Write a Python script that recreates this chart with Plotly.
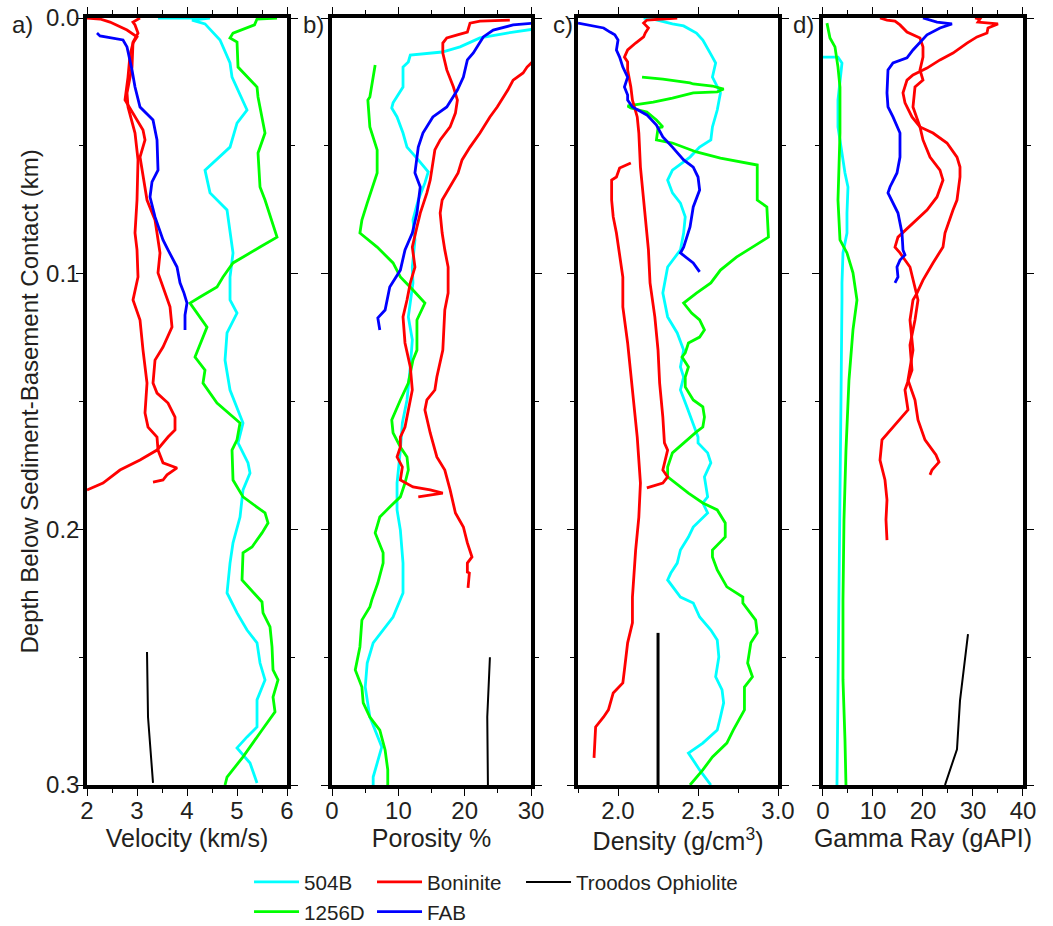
import plotly.graph_objects as go

# ---------------- DATA ----------------
# Panel a: Velocity (km/s)
a_504B_depth = [0, 0, 0.0008, 0.0023, 0.0086, 0.0176, 0.0231, 0.0360, 0.0411, 0.0505, 0.0595, 0.0684, 0.0751, 0.0841,
                0.0919, 0.1013, 0.1103, 0.1154, 0.1232, 0.1338, 0.1455, 0.1584, 0.1662, 0.1740, 0.1780, 0.1846, 0.1952,
                0.2053, 0.2132, 0.2249, 0.2327, 0.2394, 0.2444, 0.2523, 0.2589, 0.2667, 0.2773, 0.2812, 0.2855, 0.2914, 0.2992]
a_504B_vel = [3.42, 4.46, 4.1, 4.36, 4.66, 4.86, 4.9, 5.2, 5.0, 4.86, 4.36, 4.46, 4.8, 4.86, 4.92, 4.86, 4.86, 5.0, 4.8,
              4.76, 4.86, 5.12, 5.02, 5.22, 5.26, 5.12, 5.06, 4.92, 4.86, 4.8, 5.0, 5.2, 5.4, 5.46, 5.56, 5.4, 5.4, 5.2,
              5.0, 5.26, 5.4]

a_1256D_depth = [0, 0.0004, 0.0027, 0.0059, 0.0078, 0.0094, 0.0192, 0.0270, 0.0309, 0.0450, 0.0528, 0.0661, 0.0712,
                 0.0857, 0.0896, 0.0958, 0.1013, 0.1052, 0.1091, 0.1115, 0.1209, 0.1326, 0.1377, 0.1428, 0.1506, 0.1584,
                 0.1650, 0.1690, 0.1807, 0.1873, 0.1936, 0.1975, 0.2014, 0.2069, 0.2092, 0.2198, 0.2284, 0.2327, 0.2382,
                 0.2460, 0.2550, 0.2589, 0.2656, 0.2714, 0.2785, 0.2890, 0.2969, 0.3]
a_1256D_vel = [5.8, 5.4, 5.35, 4.92, 4.86, 5.0, 5.02, 5.4, 5.42, 5.56, 5.42, 5.46, 5.56, 5.8, 5.46, 4.92, 4.72, 4.6,
               4.26, 4.06, 4.4, 4.16, 4.36, 4.32, 4.6, 5.06, 5.0, 4.9, 4.92, 5.12, 5.56, 5.62, 5.5, 5.3, 5.12, 5.1, 5.5,
               5.52, 5.66, 5.7, 5.72, 5.82, 5.72, 5.76, 5.5, 5.12, 4.8, 4.76]

a_FAB_depth = [0.0059, 0.0070, 0.0086, 0.0113, 0.0203, 0.0270, 0.0348, 0.0399, 0.0477, 0.0595, 0.0641, 0.0700, 0.0778,
               0.0868, 0.0907, 0.0974, 0.1036, 0.1076, 0.1115, 0.1162, 0.1220]
a_FAB_vel = [2.2, 2.26, 2.72, 2.8, 2.9, 2.96, 3.06, 3.32, 3.4, 3.42, 3.3, 3.26, 3.36, 3.52, 3.62, 3.8, 3.86, 3.94, 4.0,
             3.96, 3.96]

a_bon1_depth = [0, 0.0004, 0.0016, 0.0047, 0.0074, 0.0098, 0.0145, 0.0231, 0.0321, 0.0372, 0.0438, 0.0477, 0.0544,
                0.0712, 0.0790, 0.0841, 0.0919, 0.0997, 0.1076, 0.1130, 0.1209, 0.1287, 0.1338, 0.1428, 0.1467, 0.1506,
                0.1561, 0.1611, 0.1639, 0.1690, 0.1729, 0.1768, 0.1819, 0.1846]
a_bon1_vel = [2.0, 2.26, 2.46, 2.8, 3.0, 2.92, 2.86, 2.82, 2.76, 2.92, 3.12, 3.16, 3.06, 3.2, 3.36, 3.4, 3.46, 3.42,
              3.56, 3.66, 3.7, 3.52, 3.36, 3.32, 3.4, 3.62, 3.76, 3.76, 3.62, 3.4, 3.06, 2.66, 2.32, 2.0]

a_bon2_depth = [0, 0.0016, 0.0027, 0.0059, 0.0094, 0.0192, 0.0293, 0.0348, 0.0450, 0.0555, 0.0712, 0.0841, 0.0907,
                0.1013, 0.1103, 0.1181, 0.1299, 0.1428, 0.1545, 0.1600, 0.1639, 0.1690, 0.1740, 0.1760, 0.1787, 0.1807, 0.1815]
a_bon2_vel = [3.06, 2.92, 2.96, 3.02, 2.92, 2.9, 2.8, 2.82, 2.96, 3.02, 3.0, 2.96, 3.0, 3.02, 2.92, 3.06, 3.12, 3.2,
              3.16, 3.22, 3.4, 3.42, 3.52, 3.8, 3.6, 3.52, 3.32]

a_troodos_depth = [0.248, 0.2734, 0.2992]
a_troodos_vel = [3.2, 3.22, 3.32]

# Panel b: Porosity %
b_504B_depth = [0.0043, 0.0059, 0.0078, 0.0113, 0.0133, 0.0145, 0.0172, 0.0192, 0.0270, 0.0332, 0.0352, 0.0387, 0.0450,
                0.0505, 0.0555, 0.0602, 0.0645, 0.0712, 0.0790, 0.0868, 0.0974, 0.1036, 0.1169, 0.1259, 0.1365, 0.1494,
                0.1584, 0.1690, 0.1819, 0.1924, 0.2003, 0.2132, 0.2249, 0.2343, 0.2444, 0.2523, 0.2617, 0.2734, 0.2851,
                0.2969, 0.3]
b_504B_por = [30.5, 26.4, 22.3, 19.3, 16.6, 11.8, 11.5, 10.7, 10.7, 9.2, 9.0, 9.8, 10.7, 11.3, 13.0, 14.5, 14.0, 13.0,
              12.2, 12.5, 12.1, 12.2, 11.5, 12.1, 11.8, 11.3, 10.6, 10.3, 9.8, 9.8, 10.3, 10.7, 10.7, 9.2, 6.2, 5.3, 5.0,
              5.7, 7.5, 6.2, 6.2]

b_1256D_depth = [0.0184, 0.0231, 0.0309, 0.0321, 0.0426, 0.0516, 0.0606, 0.0724, 0.0790, 0.0841, 0.0896, 0.0958, 0.1013,
                 0.1064, 0.1115, 0.1181, 0.1299, 0.1338, 0.1428, 0.1494, 0.1572, 0.1623, 0.1678, 0.1717, 0.1768, 0.1819,
                 0.1873, 0.1913, 0.1952, 0.2014, 0.2092, 0.2132, 0.2210, 0.2276, 0.2304, 0.2355, 0.2460, 0.2550, 0.2617,
                 0.2679, 0.2734, 0.2785, 0.2863, 0.2941, 0.3]
b_1256D_por = [6.5, 6.2, 5.7, 5.4, 5.7, 6.8, 6.8, 5.3, 4.5, 4.2, 6.8, 9.2, 10.3, 12.2, 14.0, 12.8, 12.8, 12.2, 11.5, 10.3,
               9.0, 9.2, 10.3, 11.3, 11.5, 11.0, 10.3, 8.7, 7.2, 6.5, 7.7, 7.7, 6.9, 6.0, 5.7, 4.5, 4.2, 3.5, 4.5, 4.7,
               5.7, 7.2, 8.0, 8.4, 8.4]

b_FAB_depth = [0.0020, 0.0027, 0.0047, 0.0074, 0.0137, 0.0164, 0.0231, 0.0282, 0.0348, 0.0387, 0.0450, 0.0505, 0.0606,
               0.0661, 0.0763, 0.0841, 0.0907, 0.0986, 0.1052, 0.1103, 0.1142, 0.1173, 0.1220]
b_FAB_por = [30.5, 27.3, 24.3, 22.8, 21.3, 20.4, 19.8, 18.9, 17.3, 15.2, 13.7, 13.0, 12.5, 13.3, 12.8, 12.1, 11.0, 10.3,
             8.7, 8.3, 8.0, 6.9, 7.2]

b_bon1_depth = [0.0008, 0.0012, 0.0020, 0.0055, 0.0066, 0.0078, 0.0098, 0.0137, 0.0203, 0.0270, 0.0321, 0.0372, 0.0426,
                0.0477, 0.0516, 0.0595, 0.0634, 0.0684, 0.0763, 0.0817, 0.0896, 0.0974, 0.1036, 0.1103, 0.1169, 0.1271,
                0.1365, 0.1455, 0.1533, 0.1600, 0.1639, 0.1678, 0.1717, 0.1756, 0.1807, 0.1834, 0.1846, 0.1858, 0.1873]
b_bon1_por = [26.8, 22.3, 20.8, 20.4, 18.9, 17.3, 16.7, 16.7, 17.3, 18.3, 18.9, 18.6, 17.8, 16.3, 15.5, 15.1, 14.8, 14.3,
              13.3, 12.8, 12.1, 12.5, 11.8, 11.3, 10.7, 11.0, 11.8, 12.1, 11.5, 11.0, 10.3, 10.3, 9.8, 10.6, 10.3, 12.2,
              14.8, 16.7, 13.0]

b_bon2_depth = [0.0172, 0.0192, 0.0215, 0.0243, 0.0282, 0.0348, 0.0387, 0.0450, 0.0505, 0.0555, 0.0606, 0.0661, 0.0712,
                0.0763, 0.0841, 0.0907, 0.0974, 0.1076, 0.1142, 0.1299, 0.1404, 0.1455, 0.1494, 0.1533, 0.1623, 0.1717,
                0.1768, 0.1846, 0.1936, 0.1991, 0.2053, 0.2108, 0.2132, 0.2167, 0.2171, 0.2229]
b_bon2_por = [30.2, 29.4, 28.8, 27.3, 26.5, 24.9, 23.8, 22.3, 20.8, 19.6, 19.0, 17.8, 16.6, 16.3, 16.6, 17.0, 17.5, 17.5,
              17.0, 16.7, 15.8, 15.5, 14.3, 14.0, 14.8, 15.8, 17.0, 17.8, 18.6, 19.8, 20.4, 21.1, 20.4, 20.4, 20.7, 20.5]

b_troodos_depth = [0.25, 0.2734, 0.3]
b_troodos_por = [23.8, 23.4, 23.5]

# Panel c: Density (g/cm3)
c_504B_depth = [0, 0.0004, 0.0023, 0.0027, 0.0031, 0.0059, 0.0086, 0.0153, 0.0176, 0.0231, 0.0293, 0.0360, 0.0426,
                0.0477, 0.0505, 0.0544, 0.0595, 0.0634, 0.0684, 0.0724, 0.0778, 0.0841, 0.0907, 0.0974, 0.1076, 0.1169,
                0.1232, 0.1299, 0.1365, 0.1404, 0.1455, 0.1521, 0.1584, 0.1639, 0.1662, 0.1701, 0.1740, 0.1795, 0.1873,
                0.1897, 0.1936, 0.1991, 0.2030, 0.2081, 0.2132, 0.2171, 0.2198, 0.2265, 0.2288, 0.2343, 0.2394, 0.2433,
                0.2499, 0.2577, 0.2628, 0.2679, 0.2734, 0.2785, 0.2836, 0.2875, 0.2941, 0.3]
c_504B_den = [2.16, 2.22, 2.34, 2.37, 2.41, 2.49, 2.53, 2.59, 2.61, 2.59, 2.64, 2.62, 2.59, 2.58, 2.51, 2.45, 2.34, 2.31,
              2.34, 2.39, 2.42, 2.41, 2.39, 2.31, 2.28, 2.31, 2.37, 2.41, 2.39, 2.41, 2.39, 2.43, 2.47, 2.5, 2.5, 2.56,
              2.58, 2.54, 2.56, 2.53, 2.56, 2.47, 2.44, 2.39, 2.37, 2.33, 2.31, 2.39, 2.47, 2.51, 2.58, 2.62, 2.63, 2.61,
              2.65, 2.66, 2.64, 2.62, 2.53, 2.44, 2.51, 2.58]

c_1256D_depth = [0.0231, 0.0239, 0.0254, 0.0258, 0.0266, 0.0278, 0.0289, 0.0293, 0.0313, 0.0329, 0.0344, 0.0352, 0.0368,
                 0.0399, 0.0426, 0.0430, 0.0477, 0.0489, 0.0524, 0.0548, 0.0575, 0.0712, 0.0739, 0.0857, 0.0896, 0.0935,
                 0.0986, 0.1036, 0.1076, 0.1115, 0.1154, 0.1181, 0.1220, 0.1248, 0.1271, 0.1310, 0.1326, 0.1365, 0.1404,
                 0.1443, 0.1494, 0.1521, 0.1561, 0.1600, 0.1619, 0.1662, 0.1701, 0.1756, 0.1795, 0.1858, 0.1897, 0.1924,
                 0.1975, 0.2030, 0.2081, 0.2108, 0.2159, 0.2225, 0.2265, 0.2288, 0.2355, 0.2405, 0.2444, 0.2523, 0.2577,
                 0.2617, 0.2706, 0.2785, 0.2836, 0.2890, 0.2941, 0.3]
c_1256D_den = [2.15, 2.28, 2.45, 2.47, 2.59, 2.66, 2.62, 2.47, 2.34, 2.22, 2.06, 2.08, 2.18, 2.24, 2.28, 2.25, 2.24, 2.34,
               2.49, 2.64, 2.87, 2.87, 2.93, 2.94, 2.84, 2.74, 2.64, 2.58, 2.49, 2.41, 2.46, 2.51, 2.54, 2.51, 2.44, 2.42,
               2.40, 2.44, 2.42, 2.42, 2.47, 2.53, 2.54, 2.53, 2.49, 2.41, 2.34, 2.31, 2.31, 2.44, 2.53, 2.62, 2.67, 2.67,
               2.59, 2.59, 2.62, 2.68, 2.78, 2.78, 2.86, 2.87, 2.83, 2.81, 2.84, 2.79, 2.79, 2.72, 2.68, 2.59, 2.53, 2.45]

c_FAB_depth = [0.0020, 0.0039, 0.0055, 0.0066, 0.0086, 0.0125, 0.0153, 0.0192, 0.0231, 0.0270, 0.0301, 0.0321, 0.0348,
               0.0379, 0.0419, 0.0465, 0.0505, 0.0555, 0.0583, 0.0622, 0.0673, 0.0739, 0.0817, 0.0857, 0.0896, 0.0919,
               0.0939, 0.0958, 0.0993]
c_FAB_den = [1.75, 1.91, 1.95, 1.98, 2.0, 1.99, 2.01, 2.03, 2.06, 2.04, 2.06, 2.06, 2.09, 2.18, 2.24, 2.28, 2.34, 2.41,
             2.47, 2.5, 2.51, 2.47, 2.45, 2.43, 2.41, 2.39, 2.43, 2.47, 2.51]

c_bon1_depth = [0, 0.0008, 0.0020, 0.0039, 0.0059, 0.0074, 0.0098, 0.0125, 0.0153, 0.0172, 0.0203, 0.0270, 0.0321,
                0.0387, 0.0450, 0.0583, 0.0712, 0.0841, 0.0907, 0.1036, 0.1169, 0.1299, 0.1428, 0.1561, 0.1662, 0.1690,
                0.1740, 0.1768, 0.1795, 0.1819, 0.1838]
c_bon1_den = [2.37, 2.18, 2.16, 2.19, 2.17, 2.16, 2.11, 2.06, 2.04, 2.06, 2.06, 2.08, 2.09, 2.12, 2.13, 2.14, 2.16, 2.18,
              2.19, 2.2, 2.23, 2.25, 2.26, 2.28, 2.29, 2.31, 2.29, 2.28, 2.31, 2.28, 2.18]

c_bon2_depth = [0.0567, 0.0587, 0.0622, 0.0634, 0.0712, 0.0778, 0.0841, 0.0919, 0.1013, 0.1103, 0.1130, 0.1271, 0.1455,
                0.1639, 0.1819, 0.1952, 0.2081, 0.2265, 0.2366, 0.2444, 0.2550, 0.2601, 0.2640, 0.2706, 0.2734, 0.2773,
                0.2894]
c_bon2_den = [2.08, 2.01, 1.99, 1.96, 1.96, 1.97, 1.99, 2.01, 2.03, 2.03, 2.03, 2.06, 2.09, 2.12, 2.14, 2.13, 2.11, 2.09,
              2.09, 2.06, 2.04, 2.03, 1.97, 1.94, 1.91, 1.86, 1.85]

c_troodos_depth = [0.2405, 0.3]
c_troodos_den = [2.25, 2.25]

# Panel d: Gamma Ray (gAPI)
d_504B_depth = [0.0153, 0.0153, 0.0176, 0.0243, 0.0321, 0.0426, 0.0528, 0.0606, 0.0661, 0.0763, 0.0841, 0.0919, 0.1036,
                0.1103, 0.1494, 0.1873, 0.2276, 0.2667, 0.3]
d_504B_gr = [0.0, 3.0, 3.8, 3.4, 3.0, 3.0, 3.8, 4.4, 5.0, 4.8, 4.8, 4.0, 3.8, 3.8, 3.6, 3.4, 3.2, 3.0, 2.8]

d_1256D_depth = [0.0020, 0.0078, 0.0113, 0.0192, 0.0270, 0.0450, 0.0583, 0.0712, 0.0868, 0.0919, 0.0997, 0.1103, 0.1220,
                 0.1416, 0.1690, 0.1963, 0.2276, 0.2589, 0.2824, 0.3]
d_1256D_gr = [0.8, 1.4, 2.4, 3.0, 3.4, 3.4, 3.2, 3.0, 3.4, 4.8, 6.0, 6.8, 6.0, 5.2, 4.6, 4.2, 4.0, 4.0, 4.4, 4.6]

d_FAB_depth = [0, 0.0016, 0.0023, 0.0039, 0.0066, 0.0125, 0.0156, 0.0176, 0.0203, 0.0293, 0.0348, 0.0387, 0.0450,
               0.0544, 0.0606, 0.0661, 0.0684, 0.0724, 0.0763, 0.0841, 0.0907, 0.0927, 0.0947, 0.0974, 0.1013, 0.1036]
d_FAB_gr = [20.0, 22.8, 25.8, 23.4, 20.8, 18.0, 16.8, 14.0, 13.0, 12.8, 13.0, 14.0, 15.4, 15.4, 14.8, 13.4, 13.0, 14.0,
            15.0, 15.8, 16.0, 16.4, 15.4, 14.8, 15.0, 14.4]

d_bon1_depth = [0, 0.0008, 0.0012, 0.0027, 0.0055, 0.0066, 0.0078, 0.0113, 0.0153, 0.0203, 0.0243, 0.0270, 0.0348,
                0.0426, 0.0477, 0.0544, 0.0595, 0.0634, 0.0700, 0.0751, 0.0802, 0.0857, 0.0896, 0.0919, 0.0974, 0.1052,
                0.1103, 0.1181, 0.1279, 0.1377, 0.1455, 0.1533, 0.1592, 0.1650, 0.1729, 0.1807, 0.1885, 0.1963, 0.2042]
d_bon1_gr = [11.4, 12.8, 14.4, 15.4, 16.8, 18.0, 19.4, 20.0, 20.0, 19.4, 20.0, 18.4, 18.0, 19.4, 20.0, 21.4, 23.4, 24.0,
             22.8, 20.8, 18.0, 15.0, 14.4, 15.4, 17.4, 18.4, 19.0, 18.4, 17.4, 17.8, 16.4, 17.0, 14.4, 11.8, 11.4, 12.4,
             12.8, 12.6, 12.8]

d_bon2_depth = [0, 0.0004, 0.0016, 0.0023, 0.0039, 0.0059, 0.0074, 0.0098, 0.0137, 0.0164, 0.0196, 0.0223, 0.0243,
                0.0293, 0.0332, 0.0387, 0.0426, 0.0450, 0.0489, 0.0544, 0.0583, 0.0622, 0.0712, 0.0751, 0.0841, 0.0896,
                0.0958, 0.1025, 0.1076, 0.1103, 0.1181, 0.1299, 0.1416, 0.1494, 0.1572, 0.1650, 0.1709, 0.1737, 0.1768, 0.1787]
d_bon2_gr = [30.4, 31.4, 31.0, 35.0, 33.0, 32.8, 30.8, 28.8, 26.0, 23.4, 20.8, 18.0, 16.8, 16.0, 16.4, 17.8, 19.4, 22.0,
             24.8, 26.8, 27.4, 27.4, 26.8, 26.0, 24.4, 24.0, 22.0, 20.0, 18.8, 18.0, 17.4, 18.0, 17.0, 18.4, 19.0, 20.4,
             22.6, 23.2, 21.8, 21.4]

d_troodos_depth = [0.241, 0.267, 0.286, 0.3]
d_troodos_gr = [29.0, 27.4, 26.8, 24.4]

# ---------------- STYLE ----------------
COL = {"504B": "#00ffff", "1256D": "#00ff00", "Boninite": "#ff0000", "FAB": "#0000ff", "Troodos Ophiolite": "#000000"}
LEG = {"504B": "legend", "1256D": "legend", "Boninite": "legend2", "FAB": "legend2", "Troodos Ophiolite": "legend3"}
FONT = "Liberation Sans, Arial, sans-serif"
TXT = "#231f20"

fig = go.Figure()
shown = set()


def add(name, x, y, ax, width=2.8):
    first = name not in shown
    shown.add(name)
    fig.add_trace(go.Scatter(
        x=x, y=y, mode="lines", name=name, legendgroup=name, showlegend=first,
        legend=LEG[name], line=dict(color=COL[name], width=width),
        xaxis="x" if ax == 1 else f"x{ax}", yaxis="y" if ax == 1 else f"y{ax}",
        hoverinfo="skip"))


panels = [
    (1, [("504B", a_504B_vel, a_504B_depth), ("1256D", a_1256D_vel, a_1256D_depth),
         ("Boninite", a_bon1_vel, a_bon1_depth), ("Boninite", a_bon2_vel, a_bon2_depth),
         ("FAB", a_FAB_vel, a_FAB_depth), ("Troodos Ophiolite", a_troodos_vel, a_troodos_depth)]),
    (2, [("504B", b_504B_por, b_504B_depth), ("1256D", b_1256D_por, b_1256D_depth),
         ("Boninite", b_bon1_por, b_bon1_depth), ("Boninite", b_bon2_por, b_bon2_depth),
         ("FAB", b_FAB_por, b_FAB_depth), ("Troodos Ophiolite", b_troodos_por, b_troodos_depth)]),
    (3, [("504B", c_504B_den, c_504B_depth), ("1256D", c_1256D_den, c_1256D_depth),
         ("Boninite", c_bon1_den, c_bon1_depth), ("Boninite", c_bon2_den, c_bon2_depth),
         ("FAB", c_FAB_den, c_FAB_depth), ("Troodos Ophiolite", c_troodos_den, c_troodos_depth)]),
    (4, [("504B", d_504B_gr, d_504B_depth), ("1256D", d_1256D_gr, d_1256D_depth),
         ("Boninite", d_bon1_gr, d_bon1_depth), ("Boninite", d_bon2_gr, d_bon2_depth),
         ("FAB", d_FAB_gr, d_FAB_depth), ("Troodos Ophiolite", d_troodos_gr, d_troodos_depth)]),
]
for ax, series in panels:
    for name, x, y in series:
        w = 2.8
        if name == "Troodos Ophiolite":
            w = 3.0 if ax == 3 else 2.0
        add(name, x, y, ax, w)

domains = [[0.0, 0.2137], [0.2618, 0.4744], [0.5246, 0.7383], [0.7863, 1.0]]
xr = [[2, 6], [0, 30], [1.75, 3.0], [0, 40]]
xdt = [1, 10, 0.5, 10]
xmin = [0.5, 5, 0.25, 5]
xfmt = ["d", "d", ".1f", "d"]
xtitles = ["Velocity (km/s)", "Porosity %", "Density (g/cm<sup>3</sup>)", "Gamma Ray (gAPI)"]

axis_common = dict(showline=True, linewidth=3.5, linecolor="black", mirror="ticks", ticks="outside",
                   ticklen=7, tickwidth=1.3, tickcolor="black", showgrid=False, zeroline=False,
                   automargin=False, tickfont=dict(family=FONT, size=24, color=TXT))

layout = dict(
    width=1053, height=926, paper_bgcolor="white", plot_bgcolor="white",
    margin=dict(l=87, r=30, t=18, b=141, autoexpand=False),
    font=dict(family=FONT, color=TXT),
)
for i in range(4):
    xs = "xaxis" if i == 0 else f"xaxis{i+1}"
    ys = "yaxis" if i == 0 else f"yaxis{i+1}"
    yref = "y" if i == 0 else f"y{i+1}"
    xref = "x" if i == 0 else f"x{i+1}"
    layout[xs] = dict(axis_common, domain=domains[i], range=xr[i], anchor=yref, dtick=xdt[i], tick0=0,
                      tickformat=xfmt[i], ticklabelstandoff=-6,
                      minor=dict(ticks="outside", ticklen=4, tickwidth=1.3, tickcolor="black", dtick=xmin[i],
                                 tick0=0, showgrid=False),
                      title=dict(text=xtitles[i], font=dict(family=FONT, size=25, color=TXT), standoff=4))
    layout[ys] = dict(axis_common, domain=[0, 1], range=[0.3, 0], anchor=xref, dtick=0.1, tickformat=".1f",
                      showticklabels=(i == 0), ticklabelstandoff=-8,
                      minor=dict(ticks="outside", ticklen=4, tickwidth=1.3, tickcolor="black", dtick=0.05,
                                 showgrid=False))
    if i > 0:
        layout[ys]["matches"] = "y"

leg_common = dict(orientation="v", xref="container", yref="container", yanchor="top", y=0.0691, xanchor="left",
                  bgcolor="rgba(0,0,0,0)", font=dict(family=FONT, size=20.6, color=TXT), tracegroupgap=0,
                  itemwidth=45)
layout["legend"] = dict(leg_common, x=0.2365)
layout["legend2"] = dict(leg_common, x=0.3533)
layout["legend3"] = dict(leg_common, x=0.4948)

fig.update_layout(**layout)

# y-axis title (placed as rotated text left of the tick labels)
fig.add_annotation(text="Depth Below Sediment-Basement Contact (km)", x=-0.0609, y=0.5, xref="paper", yref="paper",
                   xanchor="center", yanchor="middle", textangle=-90, showarrow=False,
                   font=dict(family=FONT, size=24, color=TXT))

labels = [("a)", -0.0823, "left"), ("b)", 0.2553, "right"), ("c)", 0.5214, "right"), ("d)", 0.7788, "right")]
for t, x, xa in labels:
    fig.add_annotation(text=t, x=x, y=0.991, xref="paper", yref="paper", xanchor=xa, yanchor="middle",
                       showarrow=False, font=dict(family=FONT, size=24, color=TXT))

fig.write_html("out.html")
